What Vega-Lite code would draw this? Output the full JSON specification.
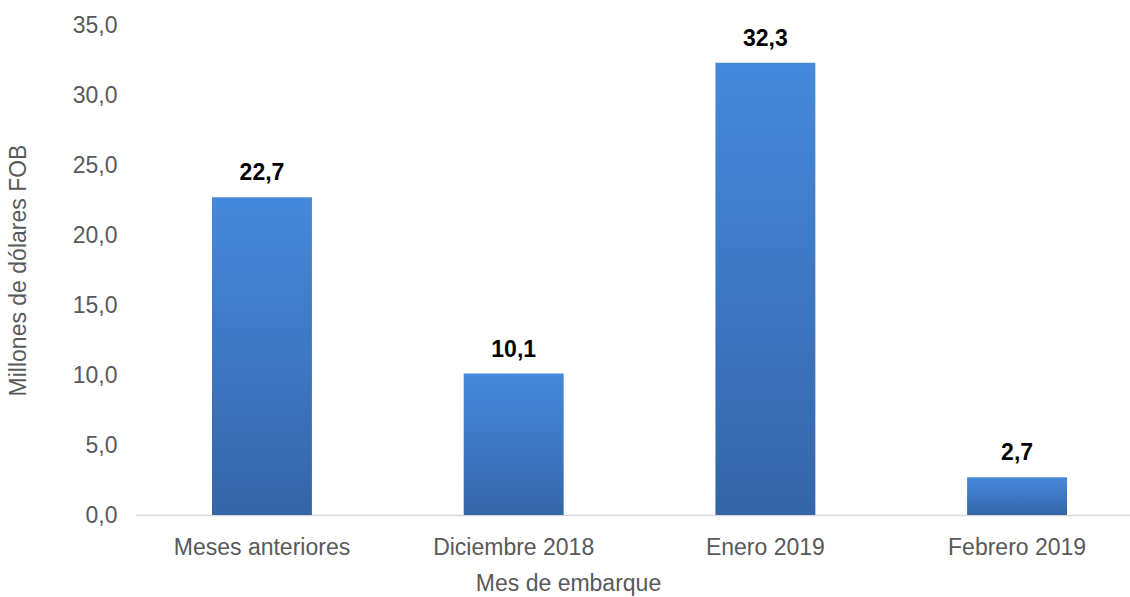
{
  "$schema": "https://vega.github.io/schema/vega-lite/v6.json",
  "width": 994,
  "height": 490,
  "autosize": {"type": "none"},
  "padding": {"left": 136, "top": 25, "right": 0, "bottom": 82},
  "background": "white",
  "config": {
    "locale": {"number": {"decimal": ",", "thousands": ".", "grouping": [3], "currency": ["$", ""]}},
    "view": {"stroke": null},
    "font": "Liberation Sans"
  },
  "data": {
    "values": [
      {"mes": "Meses anteriores", "valor": 22.7},
      {"mes": "Diciembre 2018", "valor": 10.1},
      {"mes": "Enero 2019", "valor": 32.3},
      {"mes": "Febrero 2019", "valor": 2.7}
    ]
  },
  "encoding": {
    "x": {
      "field": "mes",
      "type": "nominal",
      "sort": null,
      "scale": {"paddingInner": 0.603, "paddingOuter": 0.276, "align": 0.547},
      "axis": {
        "title": "Mes de embarque",
        "labelAngle": 0,
        "labelFontSize": 23,
        "labelColor": "#595959",
        "labelPadding": 21,
        "ticks": false,
        "domainColor": "#d9d9d9",
        "domainWidth": 1.5,
        "titleFontSize": 23,
        "titleFontWeight": "normal",
        "titleColor": "#595959",
        "titleX": 432,
        "titleY": 68,
        "titleAlign": "center",
        "titleBaseline": "middle",
        "grid": false
      }
    },
    "y": {
      "field": "valor",
      "type": "quantitative",
      "scale": {"domain": [0, 35]},
      "axis": {
        "title": "Millones de dólares FOB",
        "values": [0, 5, 10, 15, 20, 25, 30, 35],
        "format": ".1f",
        "labelFontSize": 23,
        "labelColor": "#595959",
        "labelPadding": 19,
        "ticks": false,
        "domain": false,
        "grid": false,
        "titleFontSize": 23,
        "titleFontWeight": "normal",
        "titleColor": "#595959",
        "titleAngle": -90,
        "titleX": -118,
        "titleY": 245,
        "titleAlign": "center",
        "titleBaseline": "middle"
      }
    }
  },
  "layer": [
    {
      "mark": {
        "type": "bar",
        "color": {
          "gradient": "linear",
          "x1": 0, "y1": 0, "x2": 0, "y2": 1,
          "stops": [
            {"offset": 0, "color": "#4589DA"},
            {"offset": 0.5, "color": "#3E77C2"},
            {"offset": 1, "color": "#3565A8"}
          ]
        }
      }
    },
    {
      "mark": {"type": "text", "baseline": "bottom", "dy": -12, "fontSize": 23, "fontWeight": "bold", "color": "#000000"},
      "encoding": {
        "text": {"field": "valor", "type": "quantitative", "format": ".1f"}
      }
    }
  ]
}
